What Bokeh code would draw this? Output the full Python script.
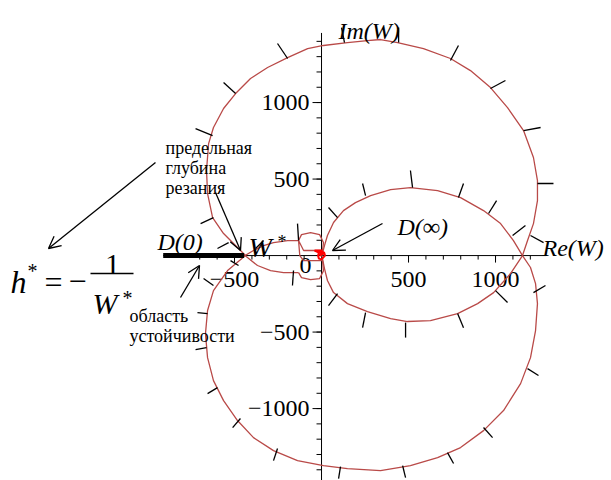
import math
from bokeh.plotting import figure
from bokeh.models import Label, Arrow, OpenHead
from bokeh.core.properties import value
from bokeh.embed import file_html
from bokeh.resources import INLINE

# ---------------- data: Re(W), Im(W) ----------------
# upper large loop (from W* to the right crossing)
upper_re = [-437, -563, -626, -655, -661, -649, -621, -563, -494, -408, -310, -195, -80, 11,
            149, 264, 339, 437, 586, 741, 856, 971, 1069, 1161, 1218, 1241, 1241, 1218, 1184, 1155]
upper_im = [0, 144, 248, 405, 556, 732, 837, 961, 1059, 1157, 1229, 1294, 1353, 1373,
            1392, 1405, 1412, 1392, 1353, 1288, 1209, 1098, 967, 817, 641, 490, 359, 209, 98, 0]
# lower large loop
lower_re = [-437, -540, -621, -655, -667, -655, -621, -563, -483, -391, -276, -138, 11, 149,
            339, 511, 667, 799, 931, 1046, 1144, 1201, 1230, 1241, 1230, 1201, 1155]
lower_im = [0, -98, -229, -359, -510, -667, -817, -948, -1078, -1190, -1275, -1340, -1373, -1392,
            -1405, -1373, -1320, -1255, -1144, -1013, -837, -667, -490, -314, -183, -78, 0]
# middle loop (D(inf) region)
mid_re = [1155, 1103, 1029, 931, 799, 667, 511, 397, 282, 195, 126, 69, 34, 17, 2,
          17, 34, 69, 149, 264, 397, 494, 626, 782, 897, 989, 1086, 1155]
mid_im = [0, 98, 209, 294, 379, 425, 444, 431, 392, 346, 294, 216, 131, 65, 0,
          -85, -163, -242, -314, -366, -412, -431, -425, -379, -314, -242, -118, 0]
# small lens between W* and the origin
lens_re = [-132, -195, -276, -333, -391, -440, -368, -293, -218, -132]
lens_im = [98, 98, 85, 65, 33, 0, -65, -98, -111, -111]
# small loops near the origin
small_re = [-132, -115, -63, -11, 11, 6, -40, -103, -132, -125, -103, -40, 6, 11, -11, -63, -115, -132]
small_im = [98, 137, 150, 137, 85, 33, 33, 33, 98, 0, -33, -33, -33, -100, -150, -157, -144, -111]
# innermost spiral at the origin
core_re = [6, -40, -15, 15, 20, 0, -15, -20, -15, 0, 15, 10, 0, -10, 0]
core_im = [33, 33, 20, 20, 0, -25, -20, 0, 20, 25, 20, 10, 12, 5, 0]

# frequency marks on the curve (segment start / end)
tick_x0 = [-695, -724, -563, -253, 115, 443, 787, 1057, 1259, 1333, 1276,
           40, 236, 511, 816, 1006, 1172, 40, 236, 483, 816, 1069,
           -678, -713, -724, -655, -511, -276, 98, 483, 759, 983, 1247, 1287,
           -598, -379, -138, -167, -523]
tick_y0 = [209, 830, 1131, 1386, 1490, 1490, 1373, 1144, 837, 471, 85,
           314, 471, 556, 471, 359, 196, -327, -471, -536, -471, -307,
           -150, -373, -614, -902, -1124, -1340, -1458, -1451, -1359, -1190, -784, -196,
           46, 46, 209, -196, -33]
tick_x1 = [-621, -626, -494, -195, 132, 443, 741, 971, 1161, 1241, 1201,
           92, 253, 523, 787, 960, 1098, 92, 253, 483, 782, 1000,
           -621, -655, -661, -598, -466, -253, 109, 466, 724, 931, 1184, 1218,
           -534, -333, -132, -161, -477]
tick_y1 = [248, 784, 1059, 1288, 1392, 1392, 1275, 1092, 817, 471, 131,
           248, 392, 444, 379, 275, 131, -248, -373, -438, -379, -229,
           -196, -379, -601, -863, -1065, -1261, -1379, -1373, -1288, -1124, -739, -242,
           85, 98, 98, -98, -65]

# stability region D(0) on the real axis
d0_re = [-910, -445]

# axes ticks
x_major = [-500, 500, 1000]
x_major_labels = ["\u2212500", "500", "1000"]
y_major = [-1000, -500, 500, 1000]
y_major_labels = ["\u22121000", "\u2212500", "500", "1000"]
x_minor = list(range(-700, 1300, 100))
y_minor = list(range(-1400, 1500, 100))
x_axis_span = [-910, 1290]
y_axis_span = [-1500, 1455]

# ---------------- figure ----------------
W, H = 611, 480
XR = (-1845, 1666.5)
YR = (-1470, 1667)

def dx(px):
    return XR[0] + px / W * (XR[1] - XR[0])

def dy(py):
    return YR[1] - py / H * (YR[1] - YR[0])

p = figure(width=W, height=H, x_range=XR, y_range=YR, output_backend="svg",
           toolbar_location=None, min_border=0, x_axis_location=None, y_axis_location=None)
p.outline_line_color = None
p.grid.visible = False
p.background_fill_color = "white"

CURVE = "#B94A48"
SERIF = "Liberation Serif"

# axes
p.line(x_axis_span, [0, 0], color="black", line_width=1)
p.line([0, 0], y_axis_span, color="black", line_width=1)
p.ray(x=x_minor, y=[0] * len(x_minor), length=4, length_units="screen", angle=-math.pi / 2,
      color="black", line_width=1)
p.ray(x=x_major, y=[0] * len(x_major), length=7, length_units="screen", angle=-math.pi / 2,
      color="black", line_width=1)
p.ray(x=[0] * len(y_minor), y=y_minor, length=5, length_units="screen", angle=math.pi,
      color="black", line_width=1)
p.ray(x=[0] * len(y_major), y=y_major, length=9, length_units="screen", angle=math.pi,
      color="black", line_width=1)

p.text(x=[0] * len(y_major), y=y_major, text=y_major_labels, x_offset=-12,
       text_align="right", text_baseline="middle", text_font=value(SERIF),
       text_font_size="24px", text_color="black")
p.text(x=x_major, y=[0] * len(x_major), text=x_major_labels, y_offset=24,
       text_align="center", text_baseline="middle", text_font=value(SERIF),
       text_font_size="24px", text_color="black")
p.text(x=[0], y=[0], text=["0"], x_offset=-16, y_offset=10,
       text_align="center", text_baseline="middle", text_font=value(SERIF),
       text_font_size="24px", text_color="black")

# curves
for xs, ys in [(upper_re, upper_im), (lower_re, lower_im), (mid_re, mid_im),
               (lens_re, lens_im), (small_re, small_im)]:
    p.line(xs, ys, color=CURVE, line_width=1.3)
p.line(core_re, core_im, color="#FF0000", line_width=2)

p.segment(x0=tick_x0, y0=tick_y0, x1=tick_x1, y1=tick_y1, color="black", line_width=1.3)

# D(0) thick segment
p.line(d0_re, [0, 0], color="black", line_width=5)

# ---------------- annotations ----------------
def lab(px, py, text, size, style="normal", align="left"):
    p.add_layout(Label(x=dx(px), y=dy(py), text=text, text_font=SERIF,
                       text_font_size=f"{size}px", text_font_style=style,
                       text_align=align, text_baseline="alphabetic", text_color="black"))

lab(338, 30, "Im(W)", 24, "italic")
lab(542, 247, "Re(W)", 24, "italic")
lab(157, 241, "D(0)", 24, "italic")
lab(397, 226, "D(\u221e)", 24, "italic")
lab(248, 247, "W", 28, "italic")
lab(277, 241, "*", 18)

lab(165, 147, "предельная", 18)
lab(165, 167, "глубина", 18)
lab(165, 187, "резания", 18)
lab(129, 315, "область", 18)
lab(129, 335, "устойчивости", 18)

# formula h* = -1/W*
lab(10, 281, "h", 32, "italic")
lab(27, 270, "*", 20)
lab(44, 281, "=", 32)
lab(68, 281, "\u2212", 32)
lab(112, 264, "1", 30, align="center")
lab(92, 303, "W", 30, "italic")
lab(122, 297, "*", 20)
p.line([dx(90), dx(133)], [dy(273), dy(273)], color="black", line_width=1.3)

def arrow(px0, py0, px1, py1):
    p.add_layout(Arrow(end=OpenHead(size=12, line_width=1.3, line_color="black"),
                       x_start=dx(px0), y_start=dy(py0), x_end=dx(px1), y_end=dy(py1),
                       line_width=1.3, line_color="black"))

arrow(155, 162, 48, 248)
arrow(215, 192, 240, 250)
arrow(180, 297, 199, 265)
arrow(382, 223, 332, 250)

open("out.html", "w").write(file_html(p, INLINE))
